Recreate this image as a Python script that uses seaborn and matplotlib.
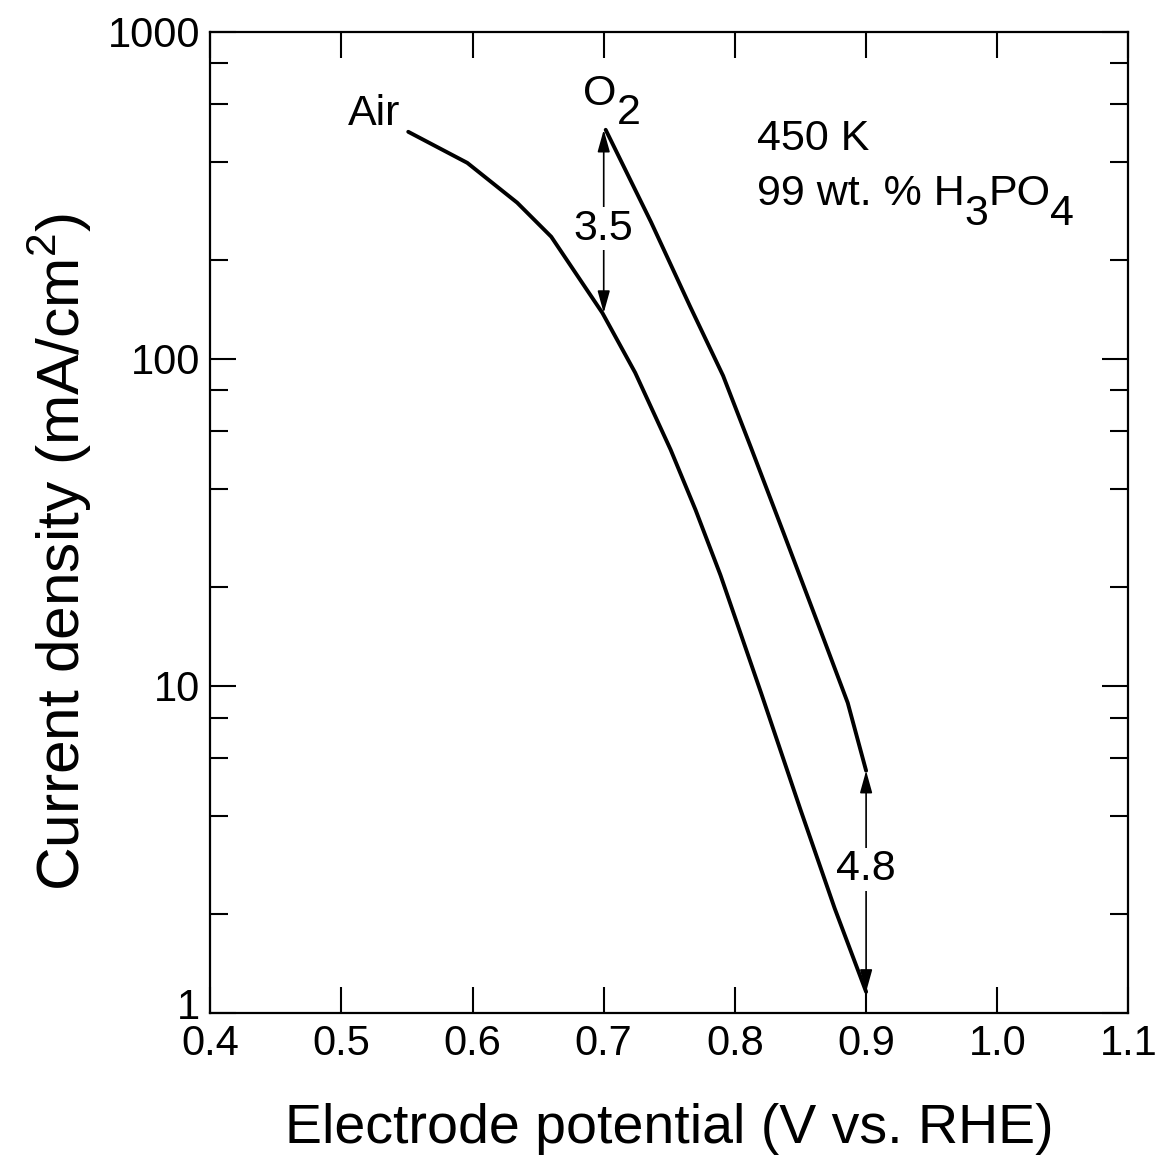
import numpy as np
import pandas as pd
import matplotlib
matplotlib.use("Agg")
import matplotlib.pyplot as plt
import matplotlib.transforms as mtransforms
import seaborn as sns
from matplotlib.ticker import FixedLocator, NullFormatter

# curve values
air_v = [0.551, 0.596, 0.634, 0.660, 0.699, 0.724, 0.751, 0.770, 0.789, 0.820, 0.850, 0.876, 0.900]
air_j = [494, 397, 300, 236, 138, 90.6, 52.7, 34.5, 21.8, 9.5, 4.18, 2.09, 1.16]
o2_v = [0.7015, 0.736, 0.766, 0.791, 0.812, 0.837, 0.868, 0.886, 0.900]
o2_j = [501, 262, 144, 88.7, 53.8, 29.4, 13.8, 8.87, 5.5]

x_ticks = [0.4, 0.5, 0.6, 0.7, 0.8, 0.9, 1.0, 1.1]
x_labels = ["0.4", "0.5", "0.6", "0.7", "0.8", "0.9", "1.0", "1.1"]
y_ticks = [1, 10, 100, 1000]
y_labels = ["1", "10", "100", "1000"]

# gap arrows: (potential, low, high, label, label y)
gaps = [(0.70, 138, 501, "3.5", 250), (0.90, 1.16, 5.5, "4.8", 2.75)]

df = pd.concat([
    pd.DataFrame({"E": air_v, "j": air_j, "gas": "Air"}),
    pd.DataFrame({"E": o2_v, "j": o2_j, "gas": "O2"}),
])

sns.set_theme(style="ticks")
plt.rcParams["font.family"] = ["Liberation Sans", "DejaVu Sans"]
plt.rcParams["mathtext.fontset"] = "custom"
plt.rcParams["mathtext.rm"] = "Liberation Sans"
for k in ["text.color", "axes.labelcolor", "xtick.color", "ytick.color"]:
    plt.rcParams[k] = "black"

fig = plt.figure(figsize=(11.61, 11.71), dpi=100)
ax = fig.add_axes([0.181, 0.135, 0.791, 0.838])

sns.lineplot(data=df, x="E", y="j", units="gas", estimator=None, sort=False,
             color="black", lw=2.8, ax=ax, legend=False)

ax.set_yscale("log")
ax.set_xlim(0.4, 1.1)
ax.set_ylim(1, 1000)

ax.set_xticks(x_ticks)
ax.set_xticklabels(x_labels)
ax.yaxis.set_major_locator(FixedLocator(y_ticks))
ax.set_yticklabels(y_labels)
minor = [m * d for d in [1, 10, 100] for m in [2, 4, 6, 8]]
ax.yaxis.set_minor_locator(FixedLocator(minor))
ax.yaxis.set_minor_formatter(NullFormatter())
ax.xaxis.set_minor_locator(FixedLocator([]))

ax.tick_params(axis="both", which="major", direction="in", length=19, width=1.5,
               labelsize=30, top=True, right=True)
ax.tick_params(axis="y", which="minor", direction="in", length=13, width=1.5,
               left=True, right=True)
ax.tick_params(axis="y", which="major", pad=7)
ax.tick_params(axis="x", which="major", pad=8)
for s in ax.spines.values():
    s.set_linewidth(1.6)
    s.set_color("black")

# lift the "1" a bit so it clears the 0.4 below it
lbl = ax.get_yticklabels()[0]
lbl.set_transform(lbl.get_transform() + mtransforms.ScaledTranslation(0, 0.09, fig.dpi_scale_trans))

ax.set_xlabel("Electrode potential (V vs. RHE)", fontsize=40, labelpad=28)
ax.set_ylabel(r"Current density (mA/cm$^\mathregular{2}$)", fontsize=43.5)
ax.yaxis.set_label_coords(-0.127, 0.47)

for e, lo, hi, txt, ty in gaps:
    ax.annotate("", xy=(e, lo), xytext=(e, hi),
                arrowprops=dict(arrowstyle="<|-|>,head_length=0.9,head_width=0.25",
                                mutation_scale=15, color="black", lw=1.2,
                                shrinkA=0, shrinkB=0))
    ax.text(e, ty, txt, fontsize=31, ha="center", va="center",
            bbox=dict(facecolor="white", edgecolor="none", pad=1))


def chem(x, y, parts, size=31, drop=14):
    # parts: list of (text, lowered); lowered digits stay full size, as in the original
    t = ax.text(x, y, parts[0][0], fontsize=size, ha="left", va="bottom")
    low = parts[0][1]
    for s, l in parts[1:]:
        dy = 0
        if l and not low:
            dy = -drop
        elif low and not l:
            dy = drop
        t = ax.annotate(s, xy=(1, 0), xycoords=t, xytext=(0, dy),
                        textcoords="offset points", fontsize=size, ha="left", va="bottom")
        low = l
    return t


ax.text(0.545, 560, "Air", fontsize=31, ha="right", va="center")
chem(0.6845, 560, [("O", False), ("2", True)])
ax.text(0.8165, 470, "450 K", fontsize=31, ha="left", va="center")
chem(0.8165, 276, [("99 wt. % H", False), ("3", True), ("PO", False), ("4", True)])

fig.savefig("out.png", dpi=100, facecolor="white")
